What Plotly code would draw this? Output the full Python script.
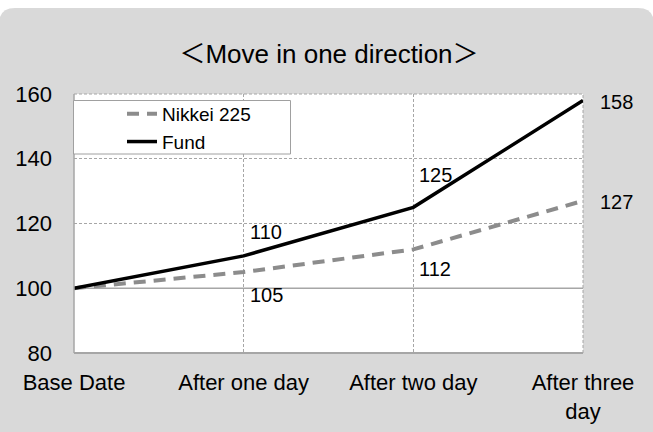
import plotly.graph_objects as go

categories = ["Base Date", "After one day", "After two day", "After three<br>day"]
nikkei = [100, 105, 112, 127]
fund = [100, 110, 125, 158]
y_ticks = [80, 100, 120, 140, 160]
title_text = "＜Move in one direction＞"

FONT = "Arial, 'Liberation Sans', 'Noto Sans CJK JP', sans-serif"
GRID = "#a6a6a6"
PANEL = "#d9d9d9"

x_idx = list(range(len(categories)))

fig = go.Figure()
fig.add_trace(go.Scatter(x=x_idx, y=nikkei, mode="lines", name="Nikkei 225",
                         line=dict(color="#8c8c8c", width=4, dash="12px,8px")))
fig.add_trace(go.Scatter(x=x_idx, y=fund, mode="lines", name="Fund",
                         line=dict(color="#000000", width=3.5)))

# data labels (offsets in px: dx, dy)
nikkei_off = [None, (4, -23), (4, -20), (15, -1)]
fund_off = [None, (4, 24), (4, 32), (15, -2)]
annotations = []
for vals, offs in ((nikkei, nikkei_off), (fund, fund_off)):
    for i, v in enumerate(vals):
        if offs[i] is None:
            continue
        dx, dy = offs[i]
        annotations.append(dict(x=i, y=v, xref="x", yref="y", text=str(v), showarrow=False,
                                xanchor="left", yanchor="middle", xshift=dx, yshift=dy,
                                font=dict(size=20, color="#000", family=FONT)))

W, H = 653, 432
L, R, T, B = 74, 70, 94, 79
pw, ph = W - L - R, H - T - B

def px2x(p):
    return (p - L) / pw

def py2y(p):
    return (H - B - p) / ph

x0, x1 = px2x(-1), px2x(W + 1)
yt, yb = py2y(8), py2y(H + 10)
rx, ry = 16 / pw, 16 / ph
panel_path = (f"M{x0},{yb} L{x0},{yt-ry} Q{x0},{yt} {x0+rx},{yt} "
              f"L{x1-rx},{yt} Q{x1},{yt} {x1},{yt-ry} L{x1},{yb} Z")

shapes = [
    dict(type="path", path=panel_path, xref="paper", yref="paper", fillcolor=PANEL,
         line=dict(width=0), layer="below"),
    dict(type="rect", x0=0, x1=1, y0=0, y1=1, xref="paper", yref="paper",
         fillcolor="white", line=dict(width=0), layer="below"),
    dict(type="line", x0=0, x1=1, y0=100, y1=100, xref="paper", yref="y",
         line=dict(color=GRID, width=1.5), layer="below"),
    # dashed top and right borders
    dict(type="line", x0=0, x1=1, y0=1, y1=1, xref="paper", yref="paper",
         line=dict(color=GRID, width=1, dash="3px,2px"), layer="below"),
    dict(type="line", x0=1, x1=1, y0=0, y1=1, xref="paper", yref="paper",
         line=dict(color=GRID, width=1, dash="3px,2px"), layer="below"),
    # solid left and bottom borders
    dict(type="line", x0=0, x1=0, y0=0, y1=1, xref="paper", yref="paper",
         line=dict(color=GRID, width=1.5), layer="above"),
    dict(type="line", x0=0, x1=1, y0=0, y1=0, xref="paper", yref="paper",
         line=dict(color=GRID, width=2), layer="above"),
    # legend box
    dict(type="rect", x0=px2x(73.5), x1=px2x(290.5), y0=py2y(154), y1=py2y(100.5),
         xref="paper", yref="paper", fillcolor="white",
         line=dict(color="#a0a0a0", width=1), layer="above"),
]

fig.update_layout(
    width=W, height=H,
    margin=dict(l=L, r=R, t=T, b=B, autoexpand=False),
    paper_bgcolor="white", plot_bgcolor="white",
    font=dict(family=FONT, color="#000"),
    title=dict(text=title_text, x=329 / W, xanchor="center", xref="container",
               y=1 - 53.5 / H, yanchor="middle", yref="container",
               font=dict(size=26, family=FONT, color="#000")),
    showlegend=True,
    legend=dict(x=px2x(73), y=py2y(95), xanchor="left", yanchor="top",
                bgcolor="rgba(0,0,0,0)", borderwidth=0,
                font=dict(size=19, family=FONT, color="#000"),
                indentation=49, tracegroupgap=0),
    xaxis=dict(range=[0, 3], tickvals=x_idx, ticktext=categories, showgrid=True,
               gridcolor=GRID, griddash="3px,2px", gridwidth=1, zeroline=False,
               showline=False, ticks="", ticklabelstandoff=14, automargin=False,
               tickfont=dict(size=22, family=FONT, color="#000"), fixedrange=True),
    yaxis=dict(range=[80, 160], tickvals=y_ticks, showgrid=True,
               gridcolor=GRID, griddash="3px,2px", gridwidth=1, zeroline=False,
               showline=False, ticks="", ticklabelstandoff=21, automargin=False,
               tickfont=dict(size=22, family=FONT, color="#000"), fixedrange=True),
    shapes=shapes,
    annotations=annotations,
)

fig.write_html("out.html", config={"displayModeBar": False},
               post_script="document.body.style.margin='0';document.body.style.padding='0';")
